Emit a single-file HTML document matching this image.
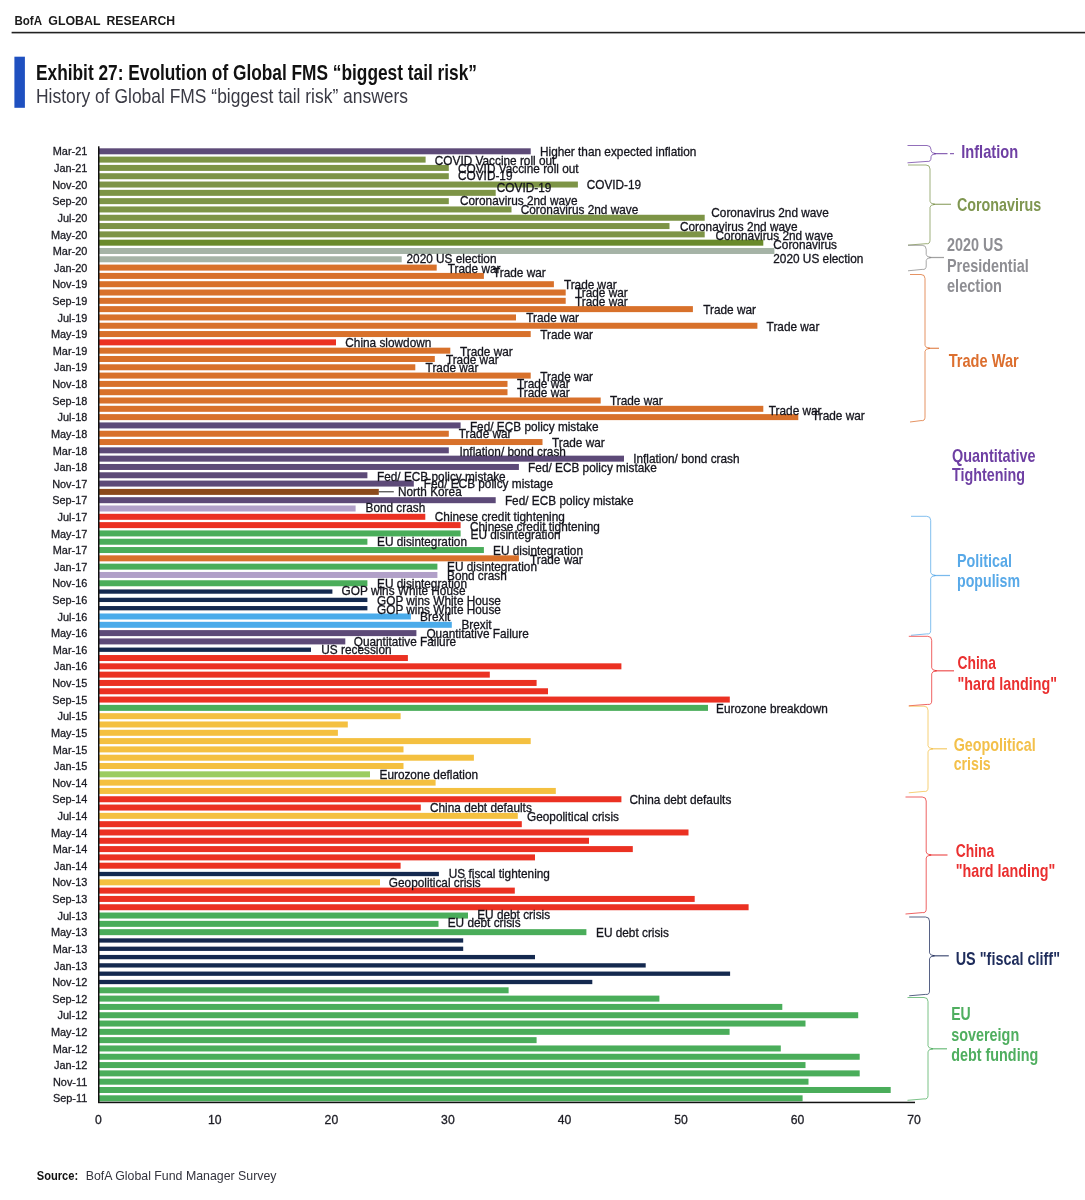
<!DOCTYPE html><html><head><meta charset="utf-8"><title>Exhibit 27</title>
<style>html,body{margin:0;padding:0;background:#fff}body{width:1085px;height:1200px;overflow:hidden;font-family:"Liberation Sans",sans-serif}svg{display:block;filter:blur(0.4px)}text{font-family:"Liberation Sans",sans-serif}</style></head><body>
<svg width="1085" height="1200" viewBox="0 0 1085 1200">
<rect width="1085" height="1200" fill="#fff"/>
<g font-size="12.4" font-weight="bold" fill="#1a1a1a"><text x="14.4" y="24.7" textLength="27.6" lengthAdjust="spacingAndGlyphs">BofA</text><text x="48.3" y="24.7" textLength="52.2" lengthAdjust="spacingAndGlyphs">GLOBAL</text><text x="106.5" y="24.7" textLength="68.6" lengthAdjust="spacingAndGlyphs">RESEARCH</text></g>
<rect x="11.6" y="31.8" width="1073.4" height="1.6" fill="#222"/>
<rect x="14.4" y="56.7" width="10.5" height="51.1" fill="#1f50c0"/>
<text x="36" y="80" font-size="22.5" font-weight="bold" fill="#111" textLength="441" lengthAdjust="spacingAndGlyphs">Exhibit 27: Evolution of Global FMS “biggest tail risk”</text>
<text x="36" y="102.6" font-size="21" fill="#3a3a44" textLength="372" lengthAdjust="spacingAndGlyphs">History of Global FMS “biggest tail risk” answers</text>
<g shape-rendering="auto">
<rect x="99" y="148.30" width="431.7" height="6.0" fill="#5d4a78"/>
<rect x="99" y="156.61" width="326.6" height="6.0" fill="#7d9446"/>
<rect x="99" y="164.91" width="349.8" height="6.0" fill="#7d9446"/>
<rect x="99" y="173.22" width="349.8" height="6.0" fill="#7d9446"/>
<rect x="99" y="181.53" width="478.9" height="6.0" fill="#7d9446"/>
<rect x="99" y="189.84" width="396.7" height="6.0" fill="#7d9446"/>
<rect x="99" y="198.14" width="349.8" height="6.0" fill="#7d9446"/>
<rect x="99" y="206.45" width="412.5" height="6.0" fill="#7d9446"/>
<rect x="99" y="214.76" width="605.7" height="6.0" fill="#7d9446"/>
<rect x="99" y="223.06" width="570.5" height="6.0" fill="#7d9446"/>
<rect x="99" y="231.37" width="605.7" height="6.0" fill="#7d9446"/>
<rect x="99" y="239.68" width="664.3" height="6.0" fill="#6a8a2b"/>
<rect x="99" y="247.98" width="675.4" height="6.0" fill="#a5b3a6"/>
<rect x="99" y="256.29" width="302.7" height="6.0" fill="#a5b3a6"/>
<rect x="99" y="264.60" width="337.7" height="6.0" fill="#d8712b"/>
<rect x="99" y="272.91" width="384.9" height="6.0" fill="#d8712b"/>
<rect x="99" y="281.21" width="454.9" height="6.0" fill="#d8712b"/>
<rect x="99" y="289.52" width="466.7" height="6.0" fill="#d8712b"/>
<rect x="99" y="297.83" width="466.7" height="6.0" fill="#d8712b"/>
<rect x="99" y="306.13" width="593.9" height="6.0" fill="#d8712b"/>
<rect x="99" y="314.44" width="417.0" height="6.0" fill="#d8712b"/>
<rect x="99" y="322.75" width="658.4" height="6.0" fill="#d8712b"/>
<rect x="99" y="331.05" width="431.7" height="6.0" fill="#d8712b"/>
<rect x="99" y="339.36" width="237.0" height="6.0" fill="#eb3122"/>
<rect x="99" y="347.67" width="351.3" height="6.0" fill="#d8712b"/>
<rect x="99" y="355.98" width="335.8" height="6.0" fill="#d8712b"/>
<rect x="99" y="364.28" width="316.3" height="6.0" fill="#d8712b"/>
<rect x="99" y="372.59" width="431.7" height="6.0" fill="#d8712b"/>
<rect x="99" y="380.90" width="408.5" height="6.0" fill="#d8712b"/>
<rect x="99" y="389.20" width="408.5" height="6.0" fill="#d8712b"/>
<rect x="99" y="397.51" width="501.7" height="6.0" fill="#d8712b"/>
<rect x="99" y="405.82" width="664.3" height="6.0" fill="#d8712b"/>
<rect x="99" y="414.12" width="699.3" height="6.0" fill="#d8712b"/>
<rect x="99" y="422.43" width="361.6" height="6.0" fill="#5d4a78"/>
<rect x="99" y="430.74" width="349.8" height="6.0" fill="#d8712b"/>
<rect x="99" y="439.05" width="443.5" height="6.0" fill="#d8712b"/>
<rect x="99" y="447.35" width="349.8" height="6.0" fill="#5d4a78"/>
<rect x="99" y="455.66" width="525.0" height="6.0" fill="#5d4a78"/>
<rect x="99" y="463.97" width="419.9" height="6.0" fill="#5d4a78"/>
<rect x="99" y="472.27" width="268.4" height="6.0" fill="#5d4a78"/>
<rect x="99" y="480.58" width="314.8" height="6.0" fill="#5d4a78"/>
<rect x="99" y="488.89" width="279.8" height="6.0" fill="#8b4a1c"/>
<rect x="99" y="497.19" width="396.7" height="6.0" fill="#5d4a78"/>
<rect x="99" y="505.50" width="256.6" height="6.0" fill="#b1a0c8"/>
<rect x="99" y="513.81" width="326.3" height="6.0" fill="#eb3122"/>
<rect x="99" y="522.12" width="361.6" height="6.0" fill="#eb3122"/>
<rect x="99" y="530.42" width="361.6" height="6.0" fill="#4aad5a"/>
<rect x="99" y="538.73" width="268.4" height="6.0" fill="#4aad5a"/>
<rect x="99" y="547.04" width="384.9" height="6.0" fill="#4aad5a"/>
<rect x="99" y="555.34" width="419.9" height="6.0" fill="#d8712b"/>
<rect x="99" y="563.65" width="338.4" height="6.0" fill="#4aad5a"/>
<rect x="99" y="571.96" width="338.4" height="6.0" fill="#b1a0c8"/>
<rect x="99" y="580.26" width="268.4" height="6.0" fill="#4aad5a"/>
<rect x="99" y="589.42" width="233.4" height="4.3" fill="#14294f"/>
<rect x="99" y="597.73" width="268.4" height="4.3" fill="#14294f"/>
<rect x="99" y="606.04" width="268.4" height="4.3" fill="#14294f"/>
<rect x="99" y="613.49" width="311.9" height="6.0" fill="#4aabea"/>
<rect x="99" y="621.80" width="352.8" height="6.0" fill="#4aabea"/>
<rect x="99" y="630.11" width="317.4" height="6.0" fill="#5d4a78"/>
<rect x="99" y="638.41" width="246.3" height="6.0" fill="#5d4a78"/>
<rect x="99" y="647.57" width="212.0" height="4.3" fill="#14294f"/>
<rect x="99" y="655.03" width="308.9" height="6.0" fill="#eb3122"/>
<rect x="99" y="663.33" width="522.4" height="6.0" fill="#eb3122"/>
<rect x="99" y="671.64" width="390.8" height="6.0" fill="#eb3122"/>
<rect x="99" y="679.95" width="437.6" height="6.0" fill="#eb3122"/>
<rect x="99" y="688.26" width="449.0" height="6.0" fill="#eb3122"/>
<rect x="99" y="696.56" width="630.8" height="6.0" fill="#eb3122"/>
<rect x="99" y="704.87" width="609.0" height="6.0" fill="#4aad5a"/>
<rect x="99" y="713.18" width="301.6" height="6.0" fill="#f4c040"/>
<rect x="99" y="721.48" width="248.8" height="6.0" fill="#f4c040"/>
<rect x="99" y="729.79" width="238.9" height="6.0" fill="#f4c040"/>
<rect x="99" y="738.10" width="431.7" height="6.0" fill="#f4c040"/>
<rect x="99" y="746.40" width="304.5" height="6.0" fill="#f4c040"/>
<rect x="99" y="754.71" width="374.9" height="6.0" fill="#f4c040"/>
<rect x="99" y="763.02" width="304.5" height="6.0" fill="#f4c040"/>
<rect x="99" y="771.33" width="271.0" height="6.0" fill="#9ccc60"/>
<rect x="99" y="779.63" width="336.6" height="6.0" fill="#f4c040"/>
<rect x="99" y="787.94" width="456.8" height="6.0" fill="#f4c040"/>
<rect x="99" y="796.25" width="522.4" height="6.0" fill="#eb3122"/>
<rect x="99" y="804.55" width="321.8" height="6.0" fill="#eb3122"/>
<rect x="99" y="812.86" width="418.8" height="6.0" fill="#f4c040"/>
<rect x="99" y="821.17" width="422.8" height="6.0" fill="#eb3122"/>
<rect x="99" y="829.47" width="589.5" height="6.0" fill="#eb3122"/>
<rect x="99" y="837.78" width="490.0" height="6.0" fill="#eb3122"/>
<rect x="99" y="846.09" width="533.8" height="6.0" fill="#eb3122"/>
<rect x="99" y="854.39" width="436.0" height="6.0" fill="#eb3122"/>
<rect x="99" y="862.70" width="301.6" height="6.0" fill="#eb3122"/>
<rect x="99" y="871.86" width="339.9" height="4.3" fill="#14294f"/>
<rect x="99" y="879.32" width="281.0" height="6.0" fill="#f4c040"/>
<rect x="99" y="887.62" width="415.8" height="6.0" fill="#eb3122"/>
<rect x="99" y="895.93" width="595.7" height="6.0" fill="#eb3122"/>
<rect x="99" y="904.24" width="649.6" height="6.0" fill="#eb3122"/>
<rect x="99" y="912.54" width="369.0" height="6.0" fill="#4aad5a"/>
<rect x="99" y="920.85" width="339.5" height="6.0" fill="#4aad5a"/>
<rect x="99" y="929.16" width="487.4" height="6.0" fill="#4aad5a"/>
<rect x="99" y="938.32" width="364.2" height="4.3" fill="#14294f"/>
<rect x="99" y="946.62" width="364.2" height="4.3" fill="#14294f"/>
<rect x="99" y="954.93" width="436.0" height="4.3" fill="#14294f"/>
<rect x="99" y="963.24" width="546.7" height="4.3" fill="#14294f"/>
<rect x="99" y="971.54" width="631.1" height="4.3" fill="#14294f"/>
<rect x="99" y="979.85" width="493.3" height="4.3" fill="#14294f"/>
<rect x="99" y="987.31" width="409.6" height="6.0" fill="#4aad5a"/>
<rect x="99" y="995.61" width="560.4" height="6.0" fill="#4aad5a"/>
<rect x="99" y="1003.92" width="683.3" height="6.0" fill="#4aad5a"/>
<rect x="99" y="1012.23" width="759.2" height="6.0" fill="#4aad5a"/>
<rect x="99" y="1020.54" width="706.5" height="6.0" fill="#4aad5a"/>
<rect x="99" y="1028.84" width="630.6" height="6.0" fill="#4aad5a"/>
<rect x="99" y="1037.15" width="437.6" height="6.0" fill="#4aad5a"/>
<rect x="99" y="1045.46" width="681.8" height="6.0" fill="#4aad5a"/>
<rect x="99" y="1053.76" width="760.7" height="6.0" fill="#4aad5a"/>
<rect x="99" y="1062.07" width="706.5" height="6.0" fill="#4aad5a"/>
<rect x="99" y="1070.38" width="760.7" height="6.0" fill="#4aad5a"/>
<rect x="99" y="1078.68" width="709.5" height="6.0" fill="#4aad5a"/>
<rect x="99" y="1086.99" width="791.7" height="6.0" fill="#4aad5a"/>
<rect x="99" y="1095.30" width="703.6" height="6.0" fill="#4aad5a"/>
</g>
<rect x="98" y="146.3" width="1.5" height="956.7" fill="#111"/>
<rect x="98" y="1101.7" width="817" height="1.5" fill="#111"/>
<rect x="378.8" y="491.3" width="15" height="1" fill="#222"/>
<g font-size="11.2" fill="#1c1c24" stroke="#1c1c24" stroke-width="0.3" text-anchor="end">
<text transform="translate(87.3,155.4) scale(0.975,1)">Mar-21</text>
<text transform="translate(87.3,172.0) scale(0.975,1)">Jan-21</text>
<text transform="translate(87.3,188.6) scale(0.975,1)">Nov-20</text>
<text transform="translate(87.3,205.2) scale(0.975,1)">Sep-20</text>
<text transform="translate(87.3,221.9) scale(0.975,1)">Jul-20</text>
<text transform="translate(87.3,238.5) scale(0.975,1)">May-20</text>
<text transform="translate(87.3,255.1) scale(0.975,1)">Mar-20</text>
<text transform="translate(87.3,271.7) scale(0.975,1)">Jan-20</text>
<text transform="translate(87.3,288.3) scale(0.975,1)">Nov-19</text>
<text transform="translate(87.3,304.9) scale(0.975,1)">Sep-19</text>
<text transform="translate(87.3,321.5) scale(0.975,1)">Jul-19</text>
<text transform="translate(87.3,338.2) scale(0.975,1)">May-19</text>
<text transform="translate(87.3,354.8) scale(0.975,1)">Mar-19</text>
<text transform="translate(87.3,371.4) scale(0.975,1)">Jan-19</text>
<text transform="translate(87.3,388.0) scale(0.975,1)">Nov-18</text>
<text transform="translate(87.3,404.6) scale(0.975,1)">Sep-18</text>
<text transform="translate(87.3,421.2) scale(0.975,1)">Jul-18</text>
<text transform="translate(87.3,437.8) scale(0.975,1)">May-18</text>
<text transform="translate(87.3,454.5) scale(0.975,1)">Mar-18</text>
<text transform="translate(87.3,471.1) scale(0.975,1)">Jan-18</text>
<text transform="translate(87.3,487.7) scale(0.975,1)">Nov-17</text>
<text transform="translate(87.3,504.3) scale(0.975,1)">Sep-17</text>
<text transform="translate(87.3,520.9) scale(0.975,1)">Jul-17</text>
<text transform="translate(87.3,537.5) scale(0.975,1)">May-17</text>
<text transform="translate(87.3,554.1) scale(0.975,1)">Mar-17</text>
<text transform="translate(87.3,570.8) scale(0.975,1)">Jan-17</text>
<text transform="translate(87.3,587.4) scale(0.975,1)">Nov-16</text>
<text transform="translate(87.3,604.0) scale(0.975,1)">Sep-16</text>
<text transform="translate(87.3,620.6) scale(0.975,1)">Jul-16</text>
<text transform="translate(87.3,637.2) scale(0.975,1)">May-16</text>
<text transform="translate(87.3,653.8) scale(0.975,1)">Mar-16</text>
<text transform="translate(87.3,670.4) scale(0.975,1)">Jan-16</text>
<text transform="translate(87.3,687.0) scale(0.975,1)">Nov-15</text>
<text transform="translate(87.3,703.7) scale(0.975,1)">Sep-15</text>
<text transform="translate(87.3,720.3) scale(0.975,1)">Jul-15</text>
<text transform="translate(87.3,736.9) scale(0.975,1)">May-15</text>
<text transform="translate(87.3,753.5) scale(0.975,1)">Mar-15</text>
<text transform="translate(87.3,770.1) scale(0.975,1)">Jan-15</text>
<text transform="translate(87.3,786.7) scale(0.975,1)">Nov-14</text>
<text transform="translate(87.3,803.3) scale(0.975,1)">Sep-14</text>
<text transform="translate(87.3,820.0) scale(0.975,1)">Jul-14</text>
<text transform="translate(87.3,836.6) scale(0.975,1)">May-14</text>
<text transform="translate(87.3,853.2) scale(0.975,1)">Mar-14</text>
<text transform="translate(87.3,869.8) scale(0.975,1)">Jan-14</text>
<text transform="translate(87.3,886.4) scale(0.975,1)">Nov-13</text>
<text transform="translate(87.3,903.0) scale(0.975,1)">Sep-13</text>
<text transform="translate(87.3,919.6) scale(0.975,1)">Jul-13</text>
<text transform="translate(87.3,936.3) scale(0.975,1)">May-13</text>
<text transform="translate(87.3,952.9) scale(0.975,1)">Mar-13</text>
<text transform="translate(87.3,969.5) scale(0.975,1)">Jan-13</text>
<text transform="translate(87.3,986.1) scale(0.975,1)">Nov-12</text>
<text transform="translate(87.3,1002.7) scale(0.975,1)">Sep-12</text>
<text transform="translate(87.3,1019.3) scale(0.975,1)">Jul-12</text>
<text transform="translate(87.3,1035.9) scale(0.975,1)">May-12</text>
<text transform="translate(87.3,1052.6) scale(0.975,1)">Mar-12</text>
<text transform="translate(87.3,1069.2) scale(0.975,1)">Jan-12</text>
<text transform="translate(87.3,1085.8) scale(0.975,1)">Nov-11</text>
<text transform="translate(87.3,1102.4) scale(0.975,1)">Sep-11</text>
</g>
<g font-size="12.6" fill="#1c1c24" stroke="#1c1c24" stroke-width="0.3" text-anchor="middle">
<text transform="translate(98.3,1123.7) scale(0.97,1)">0</text>
<text transform="translate(214.8,1123.7) scale(0.97,1)">10</text>
<text transform="translate(331.4,1123.7) scale(0.97,1)">20</text>
<text transform="translate(447.9,1123.7) scale(0.97,1)">30</text>
<text transform="translate(564.5,1123.7) scale(0.97,1)">40</text>
<text transform="translate(681.0,1123.7) scale(0.97,1)">50</text>
<text transform="translate(797.6,1123.7) scale(0.97,1)">60</text>
<text transform="translate(914.1,1123.7) scale(0.97,1)">70</text>
</g>
<g font-size="12.4" fill="#14141c" stroke="#14141c" stroke-width="0.3">
<text transform="translate(540.0,156.2) scale(0.953,1)">Higher than expected inflation</text>
<text transform="translate(434.8,164.7) scale(0.953,1)">COVID Vaccine roll out</text>
<text transform="translate(458.0,173.2) scale(0.953,1)">COVID Vaccine roll out</text>
<text transform="translate(458.0,180.2) scale(0.953,1)">COVID-19</text>
<text transform="translate(586.7,189.4) scale(0.953,1)">COVID-19</text>
<text transform="translate(496.8,192.4) scale(0.953,1)">COVID-19</text>
<text transform="translate(460.0,205.2) scale(0.953,1)">Coronavirus 2nd wave</text>
<text transform="translate(520.7,214.4) scale(0.953,1)">Coronavirus 2nd wave</text>
<text transform="translate(711.3,217.4) scale(0.953,1)">Coronavirus 2nd wave</text>
<text transform="translate(680.0,231.0) scale(0.953,1)">Coronavirus 2nd wave</text>
<text transform="translate(715.4,239.5) scale(0.953,1)">Coronavirus 2nd wave</text>
<text transform="translate(773.3,248.7) scale(0.953,1)">Coronavirus</text>
<text transform="translate(773.3,263.1) scale(0.953,1)">2020 US election</text>
<text transform="translate(406.5,263.1) scale(0.953,1)">2020 US election</text>
<text transform="translate(447.7,272.7) scale(0.953,1)">Trade war</text>
<text transform="translate(493.0,277.1) scale(0.953,1)">Trade war</text>
<text transform="translate(563.9,288.9) scale(0.953,1)">Trade war</text>
<text transform="translate(575.0,297.4) scale(0.953,1)">Trade war</text>
<text transform="translate(575.0,305.9) scale(0.953,1)">Trade war</text>
<text transform="translate(703.2,314.0) scale(0.953,1)">Trade war</text>
<text transform="translate(526.3,322.4) scale(0.953,1)">Trade war</text>
<text transform="translate(766.6,331.4) scale(0.953,1)">Trade war</text>
<text transform="translate(540.3,338.7) scale(0.953,1)">Trade war</text>
<text transform="translate(345.3,347.2) scale(0.953,1)">China slowdown</text>
<text transform="translate(460.0,356.4) scale(0.953,1)">Trade war</text>
<text transform="translate(445.9,363.8) scale(0.953,1)">Trade war</text>
<text transform="translate(425.6,372.2) scale(0.953,1)">Trade war</text>
<text transform="translate(540.3,380.7) scale(0.953,1)">Trade war</text>
<text transform="translate(517.0,388.4) scale(0.953,1)">Trade war</text>
<text transform="translate(517.0,396.9) scale(0.953,1)">Trade war</text>
<text transform="translate(610.0,405.4) scale(0.953,1)">Trade war</text>
<text transform="translate(768.8,415.4) scale(0.953,1)">Trade war</text>
<text transform="translate(812.0,420.2) scale(0.953,1)">Trade war</text>
<text transform="translate(469.9,430.6) scale(0.953,1)">Fed/ ECB policy mistake</text>
<text transform="translate(458.8,438.4) scale(0.953,1)">Trade war</text>
<text transform="translate(552.0,446.8) scale(0.953,1)">Trade war</text>
<text transform="translate(459.5,455.7) scale(0.953,1)">Inflation/ bond crash</text>
<text transform="translate(633.2,463.1) scale(0.953,1)">Inflation/ bond crash</text>
<text transform="translate(528.1,471.5) scale(0.953,1)">Fed/ ECB policy mistake</text>
<text transform="translate(377.0,480.8) scale(0.953,1)">Fed/ ECB policy mistake</text>
<text transform="translate(423.8,488.1) scale(0.953,1)">Fed/ ECB policy mistage</text>
<text transform="translate(398.0,496.2) scale(0.953,1)">North Korea</text>
<text transform="translate(504.9,505.1) scale(0.953,1)">Fed/ ECB policy mistake</text>
<text transform="translate(365.5,512.4) scale(0.953,1)">Bond crash</text>
<text transform="translate(434.8,521.3) scale(0.953,1)">Chinese credit tightening</text>
<text transform="translate(469.9,530.5) scale(0.953,1)">Chinese credit tightening</text>
<text transform="translate(470.6,539.0) scale(0.953,1)">EU disintegration</text>
<text transform="translate(377.0,546.4) scale(0.953,1)">EU disintegration</text>
<text transform="translate(493.0,555.2) scale(0.953,1)">EU disintegration</text>
<text transform="translate(530.0,563.7) scale(0.953,1)">Trade war</text>
<text transform="translate(447.0,571.4) scale(0.953,1)">EU disintegration</text>
<text transform="translate(447.0,579.6) scale(0.953,1)">Bond crash</text>
<text transform="translate(377.0,587.7) scale(0.953,1)">EU disintegration</text>
<text transform="translate(341.6,595.0) scale(0.953,1)">GOP wins White House</text>
<text transform="translate(377.0,605.0) scale(0.953,1)">GOP wins White House</text>
<text transform="translate(377.0,613.5) scale(0.953,1)">GOP wins White House</text>
<text transform="translate(420.1,620.9) scale(0.953,1)">Brexit</text>
<text transform="translate(461.4,629.0) scale(0.953,1)">Brexit</text>
<text transform="translate(426.4,638.2) scale(0.953,1)">Quantitative Failure</text>
<text transform="translate(353.7,645.6) scale(0.953,1)">Quantitative Failure</text>
<text transform="translate(321.3,654.0) scale(0.953,1)">US recession</text>
<text transform="translate(716.1,712.8) scale(0.953,1)">Eurozone breakdown</text>
<text transform="translate(379.5,779.2) scale(0.953,1)">Eurozone deflation</text>
<text transform="translate(629.5,803.9) scale(0.953,1)">China debt defaults</text>
<text transform="translate(430.0,812.4) scale(0.953,1)">China debt defaults</text>
<text transform="translate(527.0,820.9) scale(0.953,1)">Geopolitical crisis</text>
<text transform="translate(448.8,877.6) scale(0.953,1)">US fiscal tightening</text>
<text transform="translate(388.8,886.8) scale(0.953,1)">Geopolitical crisis</text>
<text transform="translate(477.2,919.3) scale(0.953,1)">EU debt crisis</text>
<text transform="translate(447.7,927.4) scale(0.953,1)">EU debt crisis</text>
<text transform="translate(596.0,936.6) scale(0.953,1)">EU debt crisis</text>
</g>
<path d="M907.5,145.5 L927.0,145.5 Q931,145.5 931,149.5 L931,150.7 Q931,153.2 936,153.7 Q931,154.2 931,156.7 L931,158.0 Q931,162 927.0,161.4 L907.5,162.8" fill="none" stroke="#6e3fa3" stroke-width="1" stroke-opacity="0.75"/><path d="M934,153.7 L954,153.7" fill="none" stroke="#6e3fa3" stroke-width="1.25" stroke-opacity="0.8" stroke-dasharray="13.5 2.5 4 3"/>
<path d="M908,165 L926.0,165 Q930,165 930,169.0 L930,201.3 Q930,203.8 935,204.3 Q930,204.8 930,207.3 L930,240.3 Q930,244.3 926.0,243.70000000000002 L908,245.10000000000002" fill="none" stroke="#7f9650" stroke-width="1" stroke-opacity="0.75"/><path d="M933,204.3 L951,204.3" fill="none" stroke="#7f9650" stroke-width="1.25" stroke-opacity="0.8"/>
<path d="M908,245.3 L922.2,245.3 Q926.2,245.3 926.2,249.3 L926.2,254.5 Q926.2,257.0 931.2,257.5 Q926.2,258.0 926.2,260.5 L926.2,266.0 Q926.2,270 922.2,269.4 L908,270.8" fill="none" stroke="#8a8a8a" stroke-width="1" stroke-opacity="0.75"/><path d="M929.2,257.5 L944,257.5" fill="none" stroke="#8a8a8a" stroke-width="1.25" stroke-opacity="0.8"/>
<path d="M910,274.5 L921.0,274.5 Q925,274.5 925,278.5 L925,345.3 Q925,347.8 930,348.3 Q925,348.8 925,351.3 L925,417.2 Q925,421.2 921.0,420.59999999999997 L910,422.0" fill="none" stroke="#dc6f2f" stroke-width="1" stroke-opacity="0.75"/><path d="M928,348.3 L939,348.3" fill="none" stroke="#dc6f2f" stroke-width="1.25" stroke-opacity="0.8"/>
<path d="M911,516.3 L926.7,516.3 Q930.7,516.3 930.7,520.3 L930.7,572.5 Q930.7,575.0 935.7,575.5 Q930.7,576.0 930.7,578.5 L930.7,630.5 Q930.7,634.5 926.7,633.9 L911,635.3" fill="none" stroke="#58a9e8" stroke-width="1" stroke-opacity="0.75"/><path d="M933.7,575.5 L950,575.5" fill="none" stroke="#58a9e8" stroke-width="1.25" stroke-opacity="0.8"/>
<path d="M908.8,636.3 L927.7,636.3 Q931.7,636.3 931.7,640.3 L931.7,667.8 Q931.7,670.3 936.7,670.8 Q931.7,671.3 931.7,673.8 L931.7,701.0 Q931.7,705 927.7,704.4 L908.8,705.8" fill="none" stroke="#ea2f2f" stroke-width="1" stroke-opacity="0.75"/><path d="M934.7,670.8 L954,670.8" fill="none" stroke="#ea2f2f" stroke-width="1.25" stroke-opacity="0.8"/>
<path d="M908.8,706.2 L924.0,706.2 Q928,706.2 928,710.2 L928,745.8 Q928,748.3 933,748.8 Q928,749.3 928,751.8 L928,788.0 Q928,792 924.0,791.4 L908.8,792.8" fill="none" stroke="#f3c04a" stroke-width="1" stroke-opacity="0.75"/><path d="M931,748.8 L947,748.8" fill="none" stroke="#f3c04a" stroke-width="1.25" stroke-opacity="0.8"/>
<path d="M905.5,797 L922.2,797 Q926.2,797 926.2,801.0 L926.2,852 Q926.2,854.5 931.2,855 Q926.2,855.5 926.2,858 L926.2,909.2 Q926.2,913.2 922.2,912.6 L905.5,914.0" fill="none" stroke="#ea2f2f" stroke-width="1" stroke-opacity="0.75"/><path d="M929.2,855 L947.5,855" fill="none" stroke="#ea2f2f" stroke-width="1.25" stroke-opacity="0.8"/>
<path d="M909.2,917 L925.5,917 Q929.5,917 929.5,921.0 L929.5,952.8 Q929.5,955.3 934.5,955.8 Q929.5,956.3 929.5,958.8 L929.5,991.0 Q929.5,995 925.5,994.4 L909.2,995.8" fill="none" stroke="#1f2d5c" stroke-width="1" stroke-opacity="0.75"/><path d="M932.5,955.8 L948.8,955.8" fill="none" stroke="#1f2d5c" stroke-width="1.25" stroke-opacity="0.8"/>
<path d="M907.5,997.5 L924.0,997.5 Q928,997.5 928,1001.5 L928,1045.8 Q928,1048.3 933,1048.8 Q928,1049.3 928,1051.8 L928,1095.5 Q928,1099.5 924.0,1098.9 L907.5,1100.3" fill="none" stroke="#4fae5f" stroke-width="1" stroke-opacity="0.75"/><path d="M931,1048.8 L947,1048.8" fill="none" stroke="#4fae5f" stroke-width="1.25" stroke-opacity="0.8"/>
<text x="961.2" y="158.2" font-size="18.2" font-weight="bold" fill="#6e3fa3" textLength="57" lengthAdjust="spacingAndGlyphs">Inflation</text>
<text x="957" y="210.7" font-size="18.2" font-weight="bold" fill="#7f9650" textLength="84.2" lengthAdjust="spacingAndGlyphs">Coronavirus</text>
<text x="947" y="251.4" font-size="18.2" font-weight="bold" fill="#8e8e93" textLength="56" lengthAdjust="spacingAndGlyphs">2020 US</text>
<text x="947" y="271.9" font-size="18.2" font-weight="bold" fill="#8e8e93" textLength="81.7" lengthAdjust="spacingAndGlyphs">Presidential</text>
<text x="947" y="291.9" font-size="18.2" font-weight="bold" fill="#8e8e93" textLength="55" lengthAdjust="spacingAndGlyphs">election</text>
<text x="948.7" y="366.9" font-size="18.2" font-weight="bold" fill="#dc6f2f" textLength="70" lengthAdjust="spacingAndGlyphs">Trade War</text>
<text x="952" y="461.9" font-size="18.2" font-weight="bold" fill="#6e3fa3" textLength="83.5" lengthAdjust="spacingAndGlyphs">Quantitative</text>
<text x="952" y="480.7" font-size="18.2" font-weight="bold" fill="#6e3fa3" textLength="73" lengthAdjust="spacingAndGlyphs">Tightening</text>
<text x="957" y="566.9" font-size="18.2" font-weight="bold" fill="#58a9e8" textLength="55" lengthAdjust="spacingAndGlyphs">Political</text>
<text x="957" y="587.4" font-size="18.2" font-weight="bold" fill="#58a9e8" textLength="63" lengthAdjust="spacingAndGlyphs">populism</text>
<text x="957.5" y="669.4" font-size="18.2" font-weight="bold" fill="#ea2f2f" textLength="38.5" lengthAdjust="spacingAndGlyphs">China</text>
<text x="957.5" y="690.2" font-size="18.2" font-weight="bold" fill="#ea2f2f" textLength="99.5" lengthAdjust="spacingAndGlyphs">&quot;hard landing&quot;</text>
<text x="953.7" y="751.4" font-size="18.2" font-weight="bold" fill="#f3c04a" textLength="82" lengthAdjust="spacingAndGlyphs">Geopolitical</text>
<text x="953.7" y="770.2" font-size="18.2" font-weight="bold" fill="#f3c04a" textLength="37" lengthAdjust="spacingAndGlyphs">crisis</text>
<text x="955.7" y="856.9" font-size="18.2" font-weight="bold" fill="#ea2f2f" textLength="38.5" lengthAdjust="spacingAndGlyphs">China</text>
<text x="955.7" y="876.9" font-size="18.2" font-weight="bold" fill="#ea2f2f" textLength="99.5" lengthAdjust="spacingAndGlyphs">&quot;hard landing&quot;</text>
<text x="955.7" y="964.9" font-size="18.2" font-weight="bold" fill="#1f2d5c" textLength="104.3" lengthAdjust="spacingAndGlyphs">US &quot;fiscal cliff&quot;</text>
<text x="951.2" y="1020.2" font-size="18.2" font-weight="bold" fill="#4fae5f" textLength="19.5" lengthAdjust="spacingAndGlyphs">EU</text>
<text x="951.2" y="1040.7" font-size="18.2" font-weight="bold" fill="#4fae5f" textLength="68" lengthAdjust="spacingAndGlyphs">sovereign</text>
<text x="951.2" y="1060.7" font-size="18.2" font-weight="bold" fill="#4fae5f" textLength="87" lengthAdjust="spacingAndGlyphs">debt funding</text>
<text x="36.8" y="1180.2" font-size="13.2" font-weight="bold" fill="#111" textLength="41.4" lengthAdjust="spacingAndGlyphs">Source:</text>
<text x="85.7" y="1180.2" font-size="13.2" fill="#33333d" textLength="190.8" lengthAdjust="spacingAndGlyphs">BofA Global Fund Manager Survey</text>
</svg></body></html>
